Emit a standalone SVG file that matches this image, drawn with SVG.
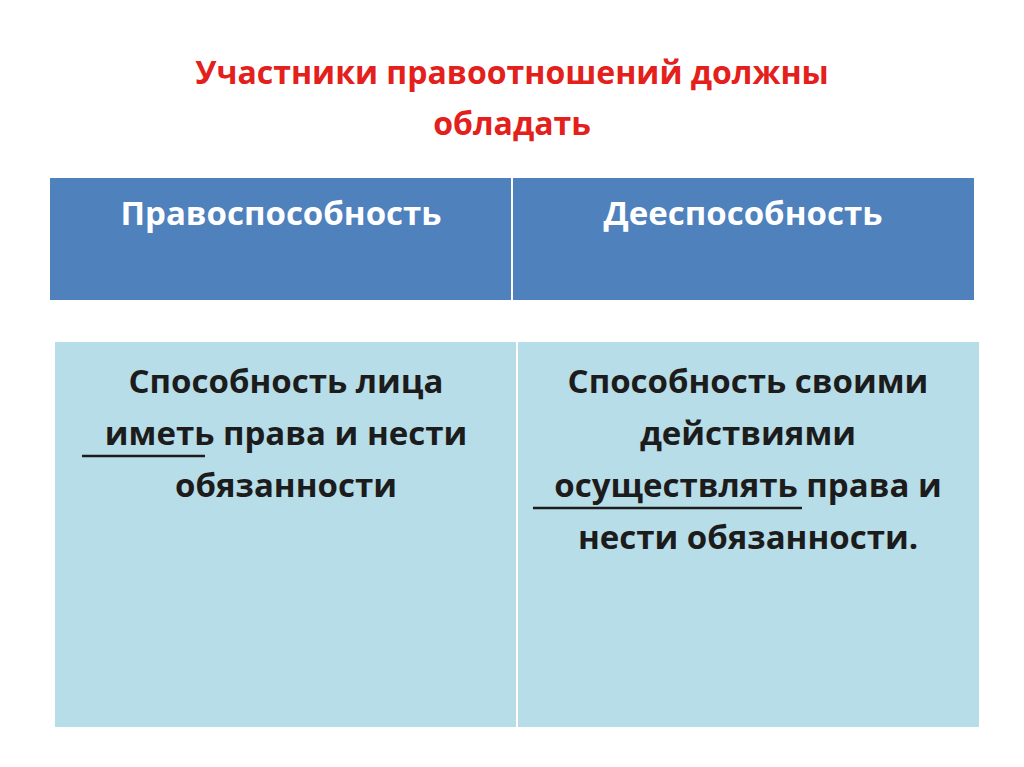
<svg xmlns="http://www.w3.org/2000/svg" width="1024" height="767" viewBox="0 0 1024 767">
<style>
.t{font-family:"Open Sans","Liberation Sans",sans-serif;font-weight:bold;text-anchor:middle}
.title{fill:#E3201B;font-size:32px}
.h{fill:#fff;font-size:33px}
.b{fill:#1c1c1c;font-size:33px}
.u{stroke:#1c1c1c;stroke-width:2.5}
</style>
<rect width="1024" height="767" fill="#fff"/>
<g id="title"><text class="t title" x="512" y="84">Участники правоотношений должны</text><text class="t title" x="512" y="135">обладать</text></g>
<g id="h1"><rect x="50" y="178" width="461" height="122" fill="#4F81BD"/><text class="t h" x="281" y="225">Правоспособность</text></g>
<g id="h2"><rect x="513" y="178" width="461" height="122" fill="#4F81BD"/><text class="t h" x="743" y="225">Дееспособность</text></g>
<g id="b1"><rect x="55" y="342" width="461" height="385" fill="#B7DDE8"/>
<text class="t b" x="286" y="393">Способность лица</text>
<text class="t b" x="286" y="445">иметь права и нести</text>
<text class="t b" x="286" y="497">обязанности</text>
<line class="u" x1="82" y1="456" x2="205" y2="456"/></g>
<g id="b2"><rect x="518" y="342" width="461" height="385" fill="#B7DDE8"/>
<text class="t b" x="748" y="393">Способность своими</text>
<text class="t b" x="748" y="445">действиями</text>
<text class="t b" x="748" y="497">осуществлять права и</text>
<text class="t b" x="748" y="549">нести обязанности.</text>
<line class="u" x1="533" y1="508" x2="802" y2="508"/></g>
<g id="connectors"/>
</svg>
